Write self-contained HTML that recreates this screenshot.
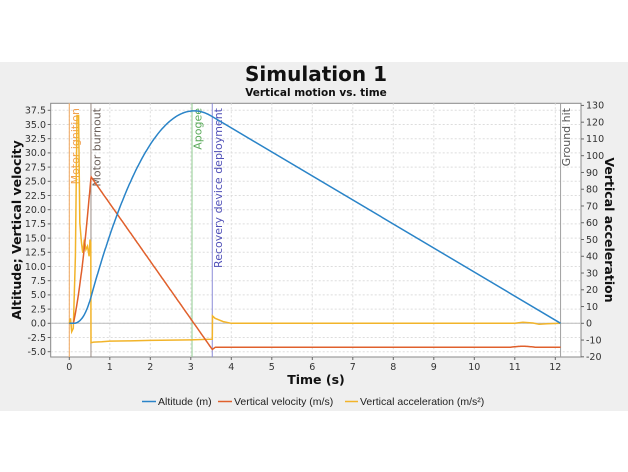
<!DOCTYPE html>
<html><head><meta charset="utf-8"><style>
body{margin:0;background:#fff;}
svg{display:block;font-family:"DejaVu Sans","Liberation Sans",sans-serif;}
</style></head><body>
<svg id="s" width="628" height="472" xmlns="http://www.w3.org/2000/svg">
<rect x="0" y="0" width="628" height="472" fill="#fff"/>
<rect x="0" y="62" width="628" height="349" fill="#efefef"/>
<text x="316" y="81" font-size="20" font-weight="bold" text-anchor="middle" fill="#111">Simulation 1</text>
<text x="316" y="96" font-size="10.5" font-weight="bold" text-anchor="middle" fill="#111">Vertical motion vs. time</text>
<rect x="50.7" y="103.3" width="530.3" height="253.7" fill="#fff" stroke="#888" stroke-width="1"/>
<g id="grid"></g>
<g id="ev"></g>
<g id="series"></g>
<g id="ax"></g>
<text transform="translate(21,230) rotate(-90)" font-size="12.5" font-weight="bold" text-anchor="middle" fill="#111">Altitude; Vertical velocity</text>
<text transform="translate(605,230) rotate(90)" font-size="12.5" font-weight="bold" text-anchor="middle" fill="#111">Vertical acceleration</text>
<text x="316" y="384" font-size="12.5" font-weight="bold" text-anchor="middle" fill="#111">Time (s)</text>
<g font-size="10.5" fill="#222" font-family="Liberation Sans, sans-serif">
<line x1="142" y1="401.5" x2="156" y2="401.5" stroke="#2a84c8" stroke-width="1.5"/>
<text x="158" y="405">Altitude (m)</text>
<line x1="218" y1="401.5" x2="232" y2="401.5" stroke="#e0602c" stroke-width="1.5"/>
<text x="234" y="405">Vertical velocity (m/s)</text>
<line x1="345" y1="401.5" x2="358" y2="401.5" stroke="#f2b42a" stroke-width="1.5"/>
<text x="360" y="405">Vertical acceleration (m/s²)</text>
</g>
</svg>
<script>
var NS="http://www.w3.org/2000/svg";
function X(t){return 69.3+40.5*t;}
function YL(v){return 323.3-5.68*v;}
function YR(a){return 323.3-1.676*a;}
function el(p,tag,at,txt){var e=document.createElementNS(NS,tag);for(var k in at)e.setAttribute(k,at[k]);if(txt!==undefined)e.textContent=txt;document.getElementById(p).appendChild(e);return e;}
for(var t=0;t<=12;t++){el("grid","line",{x1:X(t),x2:X(t),y1:103.3,y2:357,stroke:"#ddd","stroke-dasharray":"2,2"});}
for(var v=-5;v<=37.5;v+=2.5){el("grid","line",{x1:50.7,x2:581,y1:YL(v),y2:YL(v),stroke:"#ddd","stroke-dasharray":"2,2"});}
el("grid","line",{x1:50.7,x2:581,y1:YL(0),y2:YL(0),stroke:"#bbb"});
for(var t=0;t<=12;t++){el("ax","line",{x1:X(t),x2:X(t),y1:357,y2:360,stroke:"#666"});el("ax","text",{x:X(t),y:370,"font-size":"9.5","text-anchor":"middle",fill:"#333"},""+t);}
for(var v=-5;v<=37.5;v+=2.5){el("ax","line",{x1:47.7,x2:50.7,y1:YL(v),y2:YL(v),stroke:"#666"});el("ax","text",{x:46,y:YL(v)+3.3,"font-size":"9.5","text-anchor":"end",fill:"#333"},v.toFixed(1));}
for(var a=-20;a<=130;a+=10){el("ax","line",{x1:581,x2:584,y1:YR(a),y2:YR(a),stroke:"#666"});el("ax","text",{x:586,y:YR(a)+3.3,"font-size":"9.5",fill:"#333"},""+a);}
var evs=[[0,"#f0a860","Motor ignition"],[0.535,"#9a8c84","Motor burnout"],[3.03,"#90cc90","Apogee"],[3.53,"#8c8cd8","Recovery device deployment"],[12.13,"#a0a0a0","Ground hit"]];
evs.forEach(function(e){var x=X(e[0]);el("ev","line",{x1:x,x2:x,y1:103.3,y2:357,stroke:e[1],"stroke-width":1});
var c=e[1];if(e[2]=="Apogee")c="#5aaa5a";if(e[2]=="Recovery device deployment")c="#5050b8";if(e[2]=="Motor burnout")c="#6a5e58";if(e[2]=="Ground hit")c="#555";if(e[2]=="Motor ignition")c="#f0a050";
el("ev","text",{transform:"translate("+(x+9.5)+",108) rotate(-90)","font-size":"11","text-anchor":"end",fill:c},e[2]);});
function vel(t){if(t<0.1)return 0;if(t<0.535){var u=(t-0.1)/0.435;return 25.8*(0.55*u+0.45*u*u);}if(t<3.53)return 25.8-10.15*(t-0.535);if(t<3.6)return -4.6+0.35*(t-3.53)/0.07;return -4.2;}
var vp=[],hp=[];var h=0,dt=0.01,hs=[];
for(var t=0;t<=3.53;t+=dt){hs.push([t,h]);h+=vel(t)*dt;}
var maxh=0;hs.forEach(function(p){if(p[1]>maxh)maxh=p[1];});var sc=37.4/maxh;
hs.forEach(function(p){hp.push(X(p[0]).toFixed(1)+","+YL(p[1]*sc).toFixed(1));});
hp.push(X(12.13).toFixed(1)+","+YL(0).toFixed(1));
for(var t=0;t<=12.13;t+=0.01){vp.push(X(t).toFixed(1)+","+YL(vel(t)+(t>10.9&&t<11.5?0.15*Math.sin((t-10.9)/0.6*Math.PI):0)).toFixed(1));}
var ap=[[0,0],[0.03,3],[0.06,-5],[0.1,-3],[0.15,40],[0.19,124],[0.23,124],[0.26,60],[0.3,48],[0.33,42],[0.37,50],[0.41,44],[0.45,46],[0.49,40],[0.51,50],[0.53,48],[0.535,-11.6],[0.6,-11.2],[0.8,-11],[1,-10.6],[1.5,-10.5],[2,-10.2],[3,-9.9],[3.53,-9.5],[3.535,4.4],[3.6,3],[3.8,1],[4,0],[11,0],[11.2,0.6],[11.45,0.2],[11.6,-0.6],[11.8,-0.3],[12.13,0]];
el("series","polyline",{points:ap.map(function(p){return X(p[0]).toFixed(1)+","+YR(p[1]).toFixed(1);}).join(" "),fill:"none",stroke:"#f2b42a","stroke-width":1.5});
el("series","polyline",{points:vp.join(" "),fill:"none",stroke:"#e0602c","stroke-width":1.5});
el("series","polyline",{points:hp.join(" "),fill:"none",stroke:"#2a84c8","stroke-width":1.5});
</script>
</body></html>
